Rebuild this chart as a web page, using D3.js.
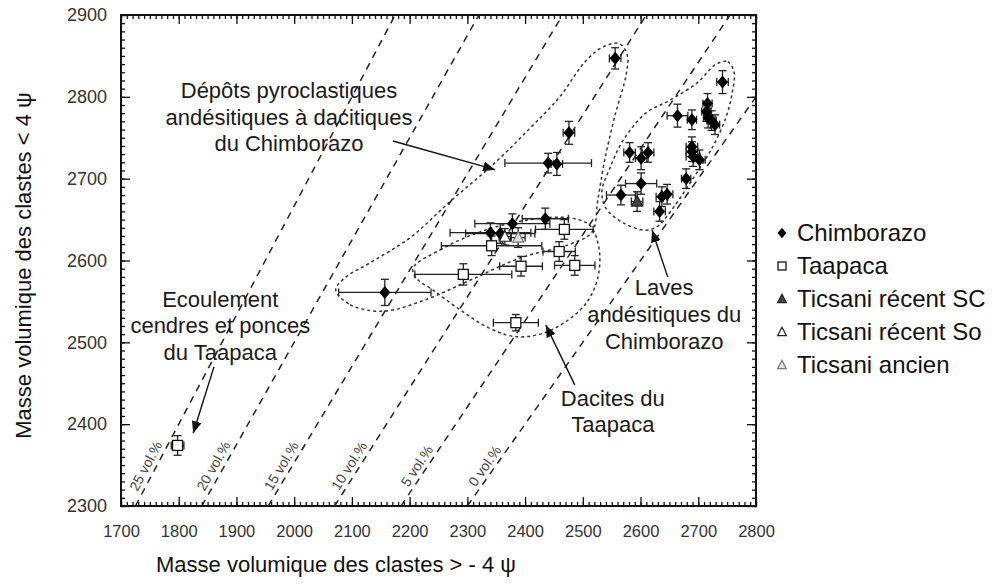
<!DOCTYPE html>
<html><head><meta charset="utf-8">
<script src="https://cdn.jsdelivr.net/npm/d3@7"></script>
<style>
body{margin:0;background:#fff;}
svg{display:block;font-family:"Liberation Sans",Arial,sans-serif;}
</style>
</head><body>
<svg id="c" width="994" height="587"></svg>
<script>
// ---------- DATA ----------
const xDomain = [1700, 2800];
const yDomain = [2300, 2900];
const xTicks = [1700,1800,1900,2000,2100,2200,2300,2400,2500,2600,2700,2800];
const yTicks = [2300,2400,2500,2600,2700,2800,2900];
const xLabel = "Masse volumique des clastes > - 4 ψ";
const yLabel = "Masse volumique des clastes < 4 ψ";

// [x, y, xErr, yErr]
const chimborazo = [
  [2157,2561,80,16],[2340,2634,70,12],[2357,2633,60,12],[2378,2645,65,12],
  [2435,2651,40,13],[2440,2719,75,12],[2455,2718,10,14],[2476,2756,10,14],
  [2556,2847,10,13],
  [2742,2818,10,14],[2716,2792,8,12],[2714,2782,8,12],[2717,2774,8,12],
  [2723,2771,8,12],[2729,2766,8,12],[2664,2777,18,14],[2689,2772,8,12],
  [2689,2739,10,12],[2689,2733,10,12],[2691,2727,12,12],[2702,2723,10,12],
  [2679,2700,8,12],[2581,2732,10,12],[2601,2725,10,14],[2613,2732,10,12],
  [2601,2694,27,13],[2566,2680,25,12],[2637,2678,10,12],[2646,2681,10,12],
  [2633,2660,10,12]
];
const taapaca = [
  [1798,2374,11,12],[2293,2583,84,13],[2384,2524,39,10],[2393,2593,37,12],
  [2486,2594,35,12],[2459,2611,28,12],[2468,2638,50,12],[2342,2618,87,12]
];
const ticsaniSC = [[2594,2672,10,12]];
const ticsaniSo = [[2365,2629,10,10]];
const ticsaniAncien = [[2388,2628,12,12]];

const legendItems = ["Chimborazo","Taapaca","Ticsani récent SC","Ticsani récent So","Ticsani ancien"];
const legendTypes = ["diamond","square","triSC","triSo","triAncien"];

// iso-vesicularity lines (vol.%)
const vesicularity = [25,20,15,10,5,0];

// enclosure outlines (data coordinates)
const enclPyro = [[2072,2564],[2097,2546],[2154,2538],[2227,2552],[2305,2576],[2391,2603],
  [2478,2620],[2516,2635],[2526,2674],[2538,2723],[2556,2778],[2575,2827],[2577,2851],
  [2563,2865],[2535,2861],[2504,2843],[2460,2800],[2409,2762],[2344,2717],[2270,2672],
  [2201,2628],[2131,2597],[2088,2579]];
const enclDacite = [[2206,2591],[2253,2613],[2322,2635],[2409,2650],[2478,2652],[2512,2643],
  [2528,2615],[2526,2579],[2507,2549],[2474,2527],[2431,2511],[2383,2507],[2336,2518],
  [2287,2540],[2240,2564],[2211,2579]];
const enclLaves = [[2731,2840],[2751,2843],[2762,2830],[2758,2802],[2748,2775],[2725,2739],
  [2686,2695],[2651,2659],[2630,2642],[2609,2637],[2570,2646],[2540,2664],[2533,2684],
  [2547,2713],[2570,2747],[2609,2780],[2651,2796],[2698,2817]];

// annotations: text lines, anchor (data), arrow from/to (data)
const annotations = [
  {lines:["Dépôts pyroclastiques","andésitiques à dacitiques","du Chimborazo"], x:1991, y:2808,
   arrow:[[2171,2746],[2348,2711]]},
  {lines:["Ecoulement","cendres et ponces","du Taapaca"], x:1872, y:2553,
   arrow:[[1861,2470],[1825,2389]]},
  {lines:["Laves","andésitiques du","Chimborazo"], x:2641, y:2567,
   arrow:[[2647,2580],[2620,2637]]},
  {lines:["Dacites du","Taapaca"], x:2552, y:2432,
   arrow:[[2486,2448],[2436,2521]]}
];

// ---------- CHART ----------
const M = {l:121, r:756, t:15, b:506};
const svg = d3.select("#c");
const x = d3.scaleLinear().domain(xDomain).range([M.l, M.r]);
const y = d3.scaleLinear().domain(yDomain).range([M.b, M.t]);

const defs = svg.append("defs");
defs.append("clipPath").attr("id","clip")
  .append("rect").attr("x",M.l).attr("y",M.t).attr("width",M.r-M.l).attr("height",M.b-M.t);
defs.append("marker").attr("id","arrow").attr("viewBox","0 0 12 10")
  .attr("refX",12).attr("refY",5).attr("markerWidth",12).attr("markerHeight",10)
  .attr("markerUnits","userSpaceOnUse").attr("orient","auto")
  .append("path").attr("d","M0,0 L12,5 L0,10 Z").attr("fill","#111");

function minorAxis(axisFn, scale, vals, size){
  return axisFn(scale).tickValues(vals).tickSize(size).tickFormat("");
}
const xMinor = d3.range(1700, 2801, 10);
const yMinor = d3.range(2300, 2901, 10);

const axG = svg.append("g");
function styleAxis(g){ g.select(".domain").remove(); g.selectAll("line").attr("stroke","#111").attr("stroke-width",1.3); }

axG.append("g").attr("transform",`translate(0,${M.b})`).call(minorAxis(d3.axisBottom,x,xMinor,-4)).call(styleAxis);
axG.append("g").attr("transform",`translate(0,${M.t})`).call(minorAxis(d3.axisTop,x,xMinor,-4)).call(styleAxis);
axG.append("g").attr("transform",`translate(${M.l},0)`).call(minorAxis(d3.axisLeft,y,yMinor,-4)).call(styleAxis);
axG.append("g").attr("transform",`translate(${M.r},0)`).call(minorAxis(d3.axisRight,y,yMinor,-4)).call(styleAxis);

axG.append("g").attr("transform",`translate(0,${M.t})`).call(d3.axisTop(x).tickValues(xTicks).tickSize(-9).tickFormat("")).call(styleAxis);
axG.append("g").attr("transform",`translate(${M.r},0)`).call(d3.axisRight(y).tickValues(yTicks).tickSize(-9).tickFormat("")).call(styleAxis);

const xb = axG.append("g").attr("transform",`translate(0,${M.b})`)
  .call(d3.axisBottom(x).tickValues(xTicks).tickSize(-9).tickPadding(19).tickFormat(d3.format("d"))).call(styleAxis);
const yl = axG.append("g").attr("transform",`translate(${M.l},0)`)
  .call(d3.axisLeft(y).tickValues(yTicks).tickSize(-9).tickPadding(14).tickFormat(d3.format("d"))).call(styleAxis);
xb.selectAll("text").attr("font-size",16.5);
yl.selectAll("text").attr("font-size",18);
[xb,yl].forEach(g=>g.selectAll("text").attr("fill","#333")
  .attr("font-family",'"Liberation Sans",Arial,sans-serif'));

svg.append("rect").attr("x",M.l).attr("y",M.t).attr("width",M.r-M.l).attr("height",M.b-M.t)
  .attr("fill","none").attr("stroke","#111").attr("stroke-width",2);

svg.append("text").attr("x",336).attr("y",572).attr("text-anchor","middle")
  .attr("font-size",22).attr("fill","#111").text(xLabel);
svg.append("text").attr("transform",`translate(31,${(M.t+M.b)/2+5}) rotate(-90)`).attr("text-anchor","middle")
  .attr("font-size",22).attr("fill","#111").text(yLabel);

// iso-vesicularity lines
const plot = svg.append("g").attr("clip-path","url(#clip)");
vesicularity.forEach(v=>{
  const f = 1 - v/100;
  plot.append("line")
    .attr("x1", x(yDomain[0]*f)).attr("y1", y(yDomain[0]))
    .attr("x2", x(yDomain[1]*f)).attr("y2", y(yDomain[1]))
    .attr("stroke","#222").attr("stroke-width",1.5).attr("stroke-dasharray","7,6");
  const yv = 2349, xv = yv*f;
  const px = x(xv)-11, py = y(yv);
  const ang = Math.atan2(y(yDomain[1])-y(yDomain[0]), x(yDomain[1]*f)-x(yDomain[0]*f))*180/Math.PI;
  svg.append("text").attr("transform",`translate(${px},${py}) rotate(${ang})`)
    .attr("text-anchor","middle").attr("dy","0.35em").attr("font-size",14).attr("fill","#444")
    .text(`${v} vol.%`);
});

// enclosures
const encLine = d3.line().x(d=>x(d[0])).y(d=>y(d[1])).curve(d3.curveCatmullRomClosed.alpha(0.5));
[enclPyro, enclDacite, enclLaves].forEach(e=>{
  plot.append("path").attr("d",encLine(e)).attr("fill","none")
    .attr("stroke","#333").attr("stroke-width",1.5).attr("stroke-dasharray","3,3");
});

// error bars
const cap = 4;
function errorBars(data){
  const g = plot.append("g").attr("stroke","#222").attr("stroke-width",1.3);
  data.forEach(d=>{
    const cx=x(d[0]), cy=y(d[1]);
    const x0=x(d[0]-d[2]), x1=x(d[0]+d[2]), y0=y(d[1]-d[3]), y1=y(d[1]+d[3]);
    g.append("line").attr("x1",x0).attr("x2",x1).attr("y1",cy).attr("y2",cy);
    g.append("line").attr("x1",x0).attr("x2",x0).attr("y1",cy-cap).attr("y2",cy+cap);
    g.append("line").attr("x1",x1).attr("x2",x1).attr("y1",cy-cap).attr("y2",cy+cap);
    g.append("line").attr("x1",cx).attr("x2",cx).attr("y1",y0).attr("y2",y1);
    g.append("line").attr("x1",cx-cap).attr("x2",cx+cap).attr("y1",y0).attr("y2",y0);
    g.append("line").attr("x1",cx-cap).attr("x2",cx+cap).attr("y1",y1).attr("y2",y1);
  });
}
[taapaca, chimborazo, ticsaniSC, ticsaniSo, ticsaniAncien].forEach(errorBars);

function marker(g, type, cx, cy, s){
  s = s || 1;
  if(type==="diamond"){
    g.append("path").attr("d",`M${cx},${cy-6.5*s}L${cx+5.5*s},${cy}L${cx},${cy+6.5*s}L${cx-5.5*s},${cy}Z`).attr("fill","#000");
  } else if(type==="square"){
    g.append("rect").attr("x",cx-5*s).attr("y",cy-5*s).attr("width",10*s).attr("height",10*s)
      .attr("fill","#fff").attr("stroke","#111").attr("stroke-width",1.3);
  } else {
    const fill = type==="triSC" ? "#444" : type==="triSo" ? "#fff" : "#ddd";
    const stroke = type==="triAncien" ? "#777" : "#222";
    g.append("path").attr("d",`M${cx},${cy-6*s}L${cx+5.5*s},${cy+4.5*s}L${cx-5.5*s},${cy+4.5*s}Z`)
      .attr("fill",fill).attr("stroke",stroke).attr("stroke-width",1.2);
  }
}
const mk = plot.append("g");
taapaca.forEach(d=>marker(mk,"square",x(d[0]),y(d[1])));
chimborazo.forEach(d=>marker(mk,"diamond",x(d[0]),y(d[1])));
ticsaniSC.forEach(d=>marker(mk,"triSC",x(d[0]),y(d[1])));
ticsaniSo.forEach(d=>marker(mk,"triSo",x(d[0]),y(d[1])));
ticsaniAncien.forEach(d=>marker(mk,"triAncien",x(d[0]),y(d[1])));

// annotations
annotations.forEach(a=>{
  const t = svg.append("text").attr("text-anchor","middle").attr("font-size",22).attr("fill","#1a1a1a");
  a.lines.forEach((l,i)=>{
    t.append("tspan").attr("x",x(a.x)).attr("y",y(a.y)+i*26.7).attr("dy","0.35em").text(l);
  });
  svg.append("line").attr("x1",x(a.arrow[0][0])).attr("y1",y(a.arrow[0][1]))
    .attr("x2",x(a.arrow[1][0])).attr("y2",y(a.arrow[1][1]))
    .attr("stroke","#111").attr("stroke-width",1.4).attr("marker-end","url(#arrow)");
});

// legend
const lg = svg.append("g");
legendItems.forEach((name,i)=>{
  const yy = 233 + i*33;
  marker(lg, legendTypes[i], 782, yy, 0.8);
  lg.append("text").attr("x",797).attr("y",yy).attr("dy","0.35em").attr("font-size",24)
    .attr("fill","#111").text(name);
});
</script>
</body></html>
